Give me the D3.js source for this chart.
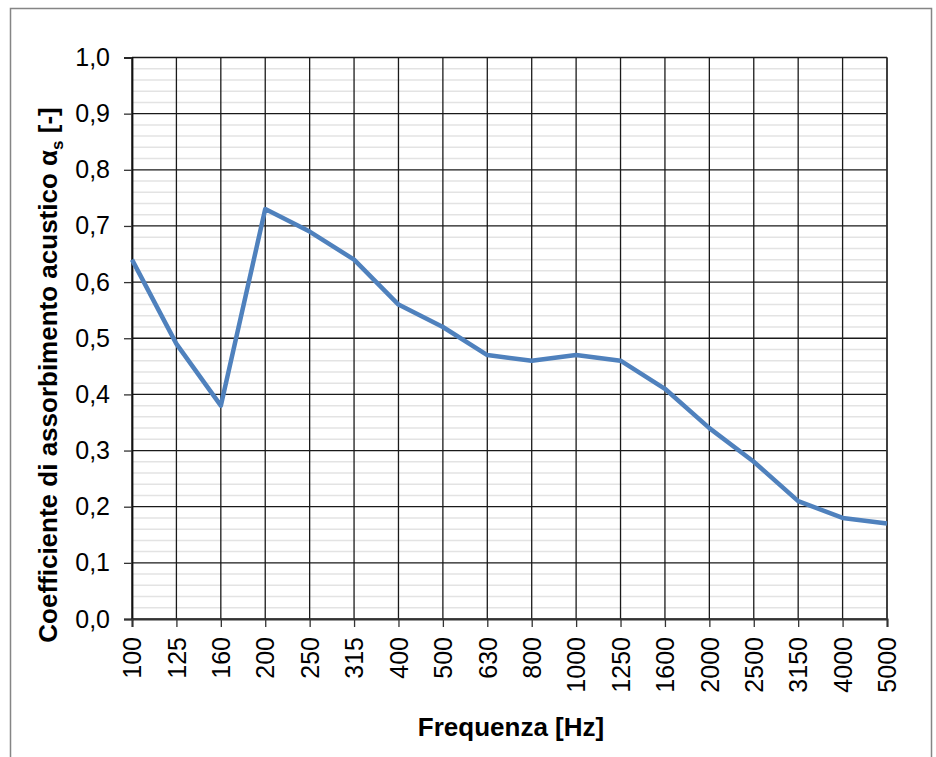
<!DOCTYPE html>
<html>
<head>
<meta charset="utf-8">
<script src="https://cdn.jsdelivr.net/npm/d3@7"></script>
<style>
html,body{margin:0;padding:0;background:#fff;}
svg{display:block;font-family:"Liberation Sans",Arial,sans-serif;}
</style>
</head>
<body>
<svg id="chart" width="936" height="757"></svg>
<script>
const categories = ["100","125","160","200","250","315","400","500","630","800","1000","1250","1600","2000","2500","3150","4000","5000"];
const alphaS = [0.64,0.49,0.38,0.73,0.69,0.64,0.56,0.52,0.47,0.46,0.47,0.46,0.41,0.34,0.28,0.21,0.18,0.17];
const yTicks = [0,0.1,0.2,0.3,0.4,0.5,0.6,0.7,0.8,0.9,1.0];
const yMinorTicks = d3.range(0, 50).map(i => i * 0.02).filter((v, i) => i % 5 !== 0);
const xTitle = "Frequenza [Hz]";

(function(){
const svg = d3.select("#chart");
const pLeft = 132, pRight = 887, pTop = 57.5, pBottom = 619;

// outer border
svg.append("rect").attr("x",10.5).attr("y",8.5).attr("width",921).attr("height",780)
  .attr("fill","#fff").attr("stroke","#858585").attr("stroke-width",1.5);

const x = d3.scalePoint().domain(categories).range([pLeft, pRight]).padding(0);
const y = d3.scaleLinear().domain([0,1]).range([pBottom, pTop]);

// minor gridlines
svg.append("g").selectAll("line").data(yMinorTicks).join("line")
  .attr("x1",pLeft).attr("x2",pRight)
  .attr("y1",d=>y(d)).attr("y2",d=>y(d))
  .attr("stroke","#e3e3e3").attr("stroke-width",1.5);

// vertical gridlines
svg.append("g").selectAll("line").data(categories).join("line")
  .attr("x1",d=>x(d)).attr("x2",d=>x(d))
  .attr("y1",pTop).attr("y2",pBottom)
  .attr("stroke","#1a1a1a").attr("stroke-width",1.3);

// major horizontal gridlines
svg.append("g").selectAll("line").data(yTicks).join("line")
  .attr("x1",pLeft).attr("x2",pRight)
  .attr("y1",d=>y(d)).attr("y2",d=>y(d))
  .attr("stroke","#1a1a1a").attr("stroke-width",1.3);

// right border of plot
svg.append("line").attr("x1",pRight).attr("x2",pRight).attr("y1",pTop).attr("y2",pBottom)
  .attr("stroke","#333").attr("stroke-width",1.5);

// Y axis
const yAxis = d3.axisLeft(y).tickValues(yTicks).tickSize(8).tickPadding(14)
  .tickFormat(d => d3.format(".1f")(d).replace(".", ","));
const gy = svg.append("g").attr("transform",`translate(${pLeft},0)`).call(yAxis);
gy.attr("font-size",25).attr("font-family","'Liberation Sans',Arial,sans-serif");
gy.select(".domain").attr("stroke","#111").attr("stroke-width",1.8);
gy.selectAll(".tick line").attr("stroke","#333").attr("stroke-width",1.3);
gy.selectAll(".tick text").attr("fill","#000");

// X axis
const xAxis = d3.axisBottom(x).tickSize(8).tickPadding(0);
const gx = svg.append("g").attr("transform",`translate(0,${pBottom})`).call(xAxis);
gx.attr("font-size",25).attr("font-family","'Liberation Sans',Arial,sans-serif");
gx.select(".domain").attr("stroke","#333").attr("stroke-width",2);
gx.selectAll(".tick line").attr("stroke","#333").attr("stroke-width",1.3);
gx.selectAll(".tick text").attr("fill","#000")
  .attr("transform","rotate(-90)")
  .attr("text-anchor","end")
  .attr("x",-18).attr("y",0).attr("dy","0.35em");

// line
const line = d3.line().x((d,i)=>x(categories[i])).y(d=>y(d));
svg.append("path").datum(alphaS).attr("d",line)
  .attr("fill","none").attr("stroke","#4f81bd").attr("stroke-width",4.5)
  .attr("stroke-linejoin","round");

// X title
svg.append("text").attr("x",511).attr("y",736).attr("text-anchor","middle")
  .attr("font-size",26).attr("font-weight","bold").text(xTitle);

// Y title
const yt = svg.append("text").attr("transform","translate(57,375) rotate(-90)")
  .attr("text-anchor","middle").attr("font-size",26).attr("font-weight","bold");
yt.append("tspan").text("Coefficiente di assorbimento acustico α");
yt.append("tspan").attr("font-size",17).attr("dy",6).text("s");
yt.append("tspan").attr("dy",-6).text(" [-]");
})();
</script>
</body>
</html>
